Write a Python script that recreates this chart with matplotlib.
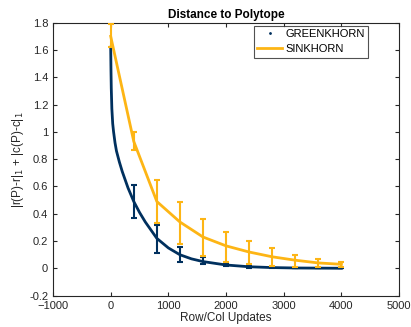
import numpy as np
import matplotlib
matplotlib.use("Agg")
import matplotlib.pyplot as plt
from matplotlib.lines import Line2D

plt.rcParams['font.family'] = ['Liberation Sans', 'DejaVu Sans']

# greenkhorn curve (dense)
green_x = [0, 5, 10, 20, 35, 50, 75, 100, 150, 200, 300, 400, 500, 600, 800,
           1000, 1200, 1400, 1600, 2000, 2400, 2800, 3200, 3600, 4000]
green_y = [1.62, 1.45, 1.32, 1.17, 1.06, 1.0, 0.92, 0.86, 0.78, 0.71, 0.59, 0.49,
           0.41, 0.34, 0.22, 0.15, 0.10, 0.07, 0.05, 0.025, 0.012, 0.006, 0.003,
           0.002, 0.001]

# greenkhorn error bars
gerr_x = [400, 800, 1200, 1600, 2000, 2400, 2800, 3200, 3600, 4000]
gerr_y = [0.49, 0.21, 0.10, 0.05, 0.025, 0.012, 0.006, 0.003, 0.002, 0.001]
gerr_lo = [0.37, 0.11, 0.05, 0.03, 0.015, 0.006, 0.002, 0.0, 0.0, 0.0]
gerr_hi = [0.61, 0.32, 0.16, 0.08, 0.04, 0.02, 0.01, 0.006, 0.004, 0.003]

# sinkhorn
sink_x = [0, 400, 800, 1200, 1600, 2000, 2400, 2800, 3200, 3600, 4000]
sink_y = [1.70, 0.93, 0.49, 0.34, 0.23, 0.165, 0.12, 0.085, 0.06, 0.04, 0.03]
sink_lo = [1.62, 0.87, 0.33, 0.18, 0.09, 0.05, 0.03, 0.02, 0.01, 0.01, 0.01]
sink_hi = [1.79, 1.00, 0.65, 0.49, 0.36, 0.27, 0.20, 0.15, 0.10, 0.07, 0.05]

navy = '#00305E'
maize = '#FDB515'

fig = plt.figure(figsize=(4.11, 3.27), dpi=100)
ax = fig.add_axes([0.129, 0.0957, 0.842, 0.835])

ax.plot(green_x, green_y, '-', color=navy, lw=2, zorder=3)
gy = np.array(gerr_y)
ax.errorbar(gerr_x, gerr_y, yerr=[gy - np.array(gerr_lo), np.array(gerr_hi) - gy],
            fmt='none', ecolor=navy, elinewidth=1.5, capsize=2, capthick=1.5, zorder=3)

sy = np.array(sink_y)
ax.errorbar(sink_x, sink_y, yerr=[sy - np.array(sink_lo), np.array(sink_hi) - sy],
            fmt='-', color=maize, lw=2, ecolor=maize, elinewidth=1.5,
            capsize=2, capthick=1.5, zorder=4)

ax.set_xlim(-1000, 5000)
ax.set_ylim(-0.2, 1.8)
ax.set_xticks(np.arange(-1000, 5001, 1000))
ax.set_yticks(np.arange(-0.2, 1.81, 0.2))
ax.set_yticklabels(['-0.2', '0', '0.2', '0.4', '0.6', '0.8', '1', '1.2', '1.4', '1.6', '1.8'])
ax.tick_params(direction='in', top=True, right=True, labelsize=8, length=3,
               color='#262626', labelcolor='#262626')
for s in ax.spines.values():
    s.set_color('#262626')
    s.set_linewidth(0.8)

ax.set_title('Distance to Polytope', fontsize=8.5, fontweight='bold', pad=3)
ax.set_xlabel('Row/Col Updates', fontsize=8.5, labelpad=1, color='#262626')
ax.set_ylabel(r'|r(P)-r|$_1$ + |c(P)-c|$_1$', fontsize=8.5, labelpad=2, color='#262626')

handles = [Line2D([], [], color=navy, marker='.', ls='none', markersize=2),
           Line2D([], [], color=maize, lw=2)]
leg = ax.legend(handles, ['GREENKHORN', 'SINKHORN'], loc='upper right',
                bbox_to_anchor=(0.91, 0.988), fontsize=8, frameon=True,
                fancybox=False, edgecolor='#262626', handlelength=2.2,
                borderpad=0.3, labelspacing=0.45, handletextpad=0.3,
                borderaxespad=0.0)
leg.get_frame().set_linewidth(0.8)

fig.savefig('out.png', dpi=100)
